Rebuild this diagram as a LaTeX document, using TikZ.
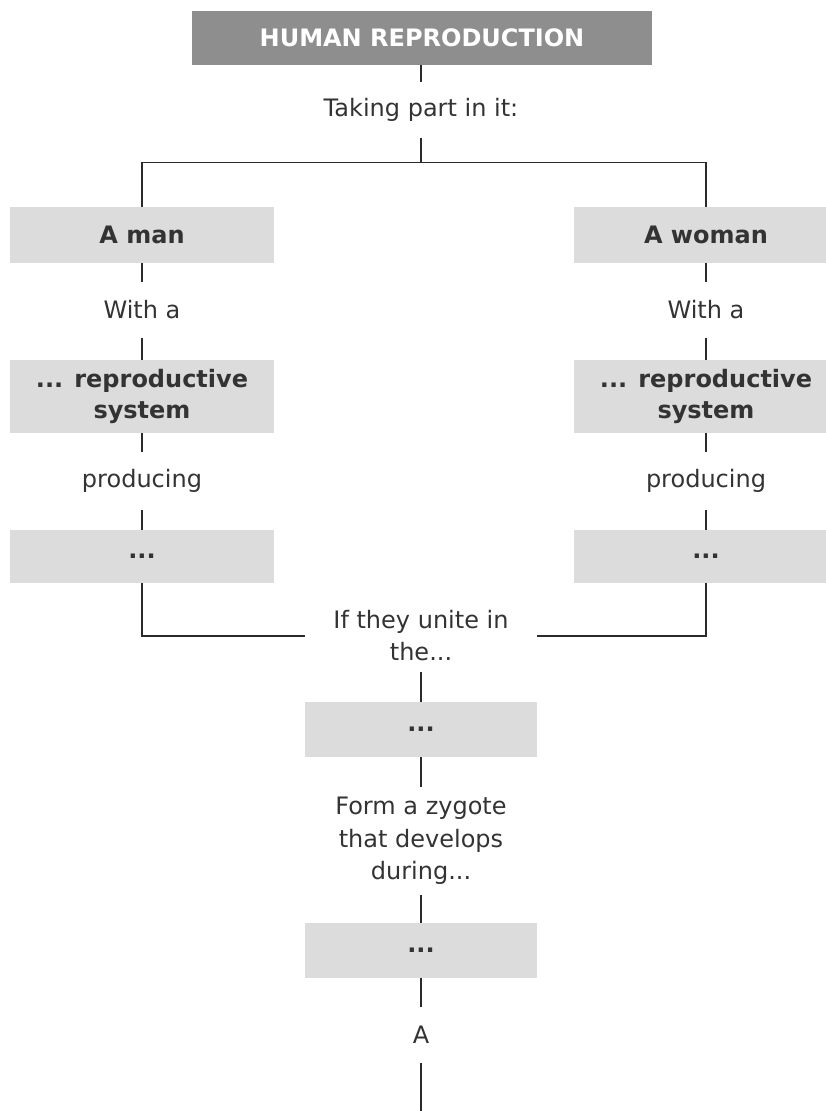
\documentclass[tikz,border=0pt]{standalone}
\usepackage{fontspec}
\setmainfont{DejaVu Sans}
\definecolor{titlegray}{HTML}{8E8E8E}
\definecolor{boxgray}{HTML}{DCDCDC}
\definecolor{txt}{HTML}{333333}
\definecolor{ln}{HTML}{2A2A2A}
\newcommand\diafs{\fontsize{24}{31}\selectfont}
\begin{document}
\begin{tikzpicture}[x=1pt,y=-1pt,
  titlebox/.style={fill=titlegray, inner sep=0pt, minimum width=460pt, minimum height=54pt, font=\diafs\bfseries, text=white},
  sidebox/.style={fill=boxgray, inner sep=0pt, minimum width=264pt, align=center, font=\diafs\bfseries, text=txt},
  midbox/.style={fill=boxgray, inner sep=0pt, minimum width=232pt, minimum height=55pt, align=center, font=\diafs\bfseries, text=txt},
  lbl/.style={inner sep=0pt, align=center, font=\diafs, text=txt},
  conn/.style={draw=ln, line width=1.3pt}]
\useasboundingbox (0,0) rectangle (826,1111);
\clip (0,0) rectangle (826,1111);
% top
\node[titlebox] (title) at (422,38) {HUMAN REPRODUCTION};
\node[lbl, minimum height=55pt] (taking) at (421,110) {Taking part in it:};
\coordinate (junc) at (421,163);
% left column
\node[sidebox, minimum height=56pt] (man) at (142,235) {A man};
\node[lbl, minimum height=55pt] (withL) at (142,310) {With a};
\node[sidebox, minimum height=73pt] (reproL) at (142,396.5) {... reproductive\\system};
\node[lbl, minimum height=58pt] (prodL) at (142,481) {producing};
\node[sidebox, minimum height=53pt] (dotsL) at (142,556.5) {...};
% right column
\node[sidebox, minimum height=56pt] (woman) at (706,235) {A woman};
\node[lbl, minimum height=55pt] (withR) at (706,310) {With a};
\node[sidebox, minimum height=73pt] (reproR) at (706,396.5) {... reproductive\\system};
\node[lbl, minimum height=58pt] (prodR) at (706,481) {producing};
\node[sidebox, minimum height=53pt] (dotsR) at (706,556.5) {...};
% centre column
\node[lbl, minimum width=232pt, minimum height=72pt, font=\fontsize{24}{32}\selectfont] (unite) at (421,636) {If they unite in\\the...};
\node[midbox] (uterus) at (421,729.5) {...};
\node[lbl, minimum height=108pt, font=\fontsize{24}{32.5}\selectfont] (form) at (421,841) {Form a zygote\\that develops\\during...};
\node[midbox] (preg) at (421,950.5) {...};
\node[lbl, minimum height=56pt] (a) at (421,1035) {A};
\coordinate (bottom) at (421,1111);
% connectors
\draw[conn] (title.south -| taking.north) -- (taking.north);
\draw[conn] (taking.south) -- (junc);
\draw[conn] (man.north) -- ++(0,-44) -| (woman.north);
\draw[conn] (man) -- (withL);
\draw[conn] (withL) -- (reproL);
\draw[conn] (reproL) -- (prodL);
\draw[conn] (prodL) -- (dotsL);
\draw[conn] (woman) -- (withR);
\draw[conn] (withR) -- (reproR);
\draw[conn] (reproR) -- (prodR);
\draw[conn] (prodR) -- (dotsR);
\draw[conn] (dotsL.south) |- (unite.west);
\draw[conn] (dotsR.south) |- (unite.east);
\draw[conn] (unite) -- (uterus);
\draw[conn] (uterus) -- (form);
\draw[conn] (form) -- (preg);
\draw[conn] (preg) -- (a);
\draw[conn] (a) -- (bottom);
\end{tikzpicture}
\end{document}
